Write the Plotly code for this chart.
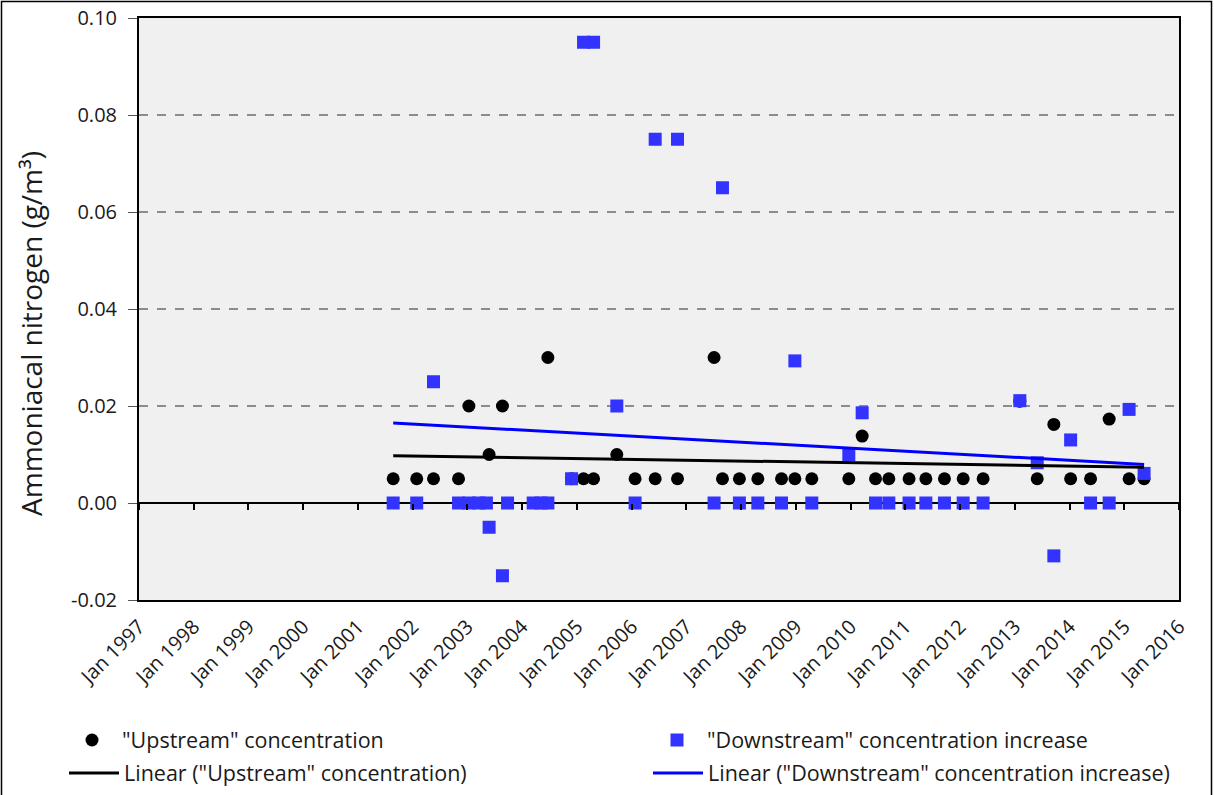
import numpy as np
import pandas as pd
import plotly.graph_objects as go

# Sampling dates and values (g/m3)
up_dates = [
    "2001-08-24", "2002-01-28", "2002-05-20", "2002-11-03", "2003-01-11",
    "2003-05-26", "2003-08-23", "2004-06-21", "2004-11-26", "2005-02-14",
    "2005-04-22", "2005-09-24", "2006-01-24", "2006-06-07", "2006-11-03",
    "2007-07-05", "2007-08-30", "2007-12-21", "2008-04-22", "2008-09-27",
    "2008-12-25", "2009-04-17", "2009-12-20", "2010-03-19", "2010-06-16",
    "2010-09-13", "2011-01-26", "2011-05-18", "2011-09-19", "2012-01-22",
    "2012-06-03", "2013-02-03", "2013-05-30", "2013-09-18", "2014-01-08",
    "2014-05-21", "2014-09-22", "2015-02-02", "2015-05-13",
]
up_values = [
    0.005, 0.005, 0.005, 0.005, 0.020,
    0.010, 0.020, 0.030, 0.005, 0.005,
    0.005, 0.010, 0.005, 0.005, 0.005,
    0.030, 0.005, 0.005, 0.005, 0.005,
    0.005, 0.005, 0.005, 0.0138, 0.005,
    0.005, 0.005, 0.005, 0.005, 0.005,
    0.005, 0.021, 0.005, 0.0162, 0.005,
    0.005, 0.0173, 0.005, 0.005,
]

down_dates = [
    "2001-08-24", "2002-01-28", "2002-05-20", "2002-11-03", "2003-01-11",
    "2003-03-18", "2003-05-08", "2003-05-26", "2003-08-23", "2003-09-26",
    "2004-03-15", "2004-05-06", "2004-06-21", "2004-11-26", "2005-02-14",
    "2005-04-22", "2005-09-24", "2006-01-24", "2006-06-07", "2006-11-03",
    "2007-07-05", "2007-08-30", "2007-12-21", "2008-04-22", "2008-09-27",
    "2008-12-25", "2009-04-17", "2009-12-20", "2010-03-19", "2010-06-16",
    "2010-09-13", "2011-01-26", "2011-05-18", "2011-09-19", "2012-01-22",
    "2012-06-03", "2013-02-03", "2013-05-30", "2013-09-18", "2014-01-08",
    "2014-05-21", "2014-09-22", "2015-02-02", "2015-05-13",
]
down_values = [
    0.0, 0.0, 0.025, 0.0, 0.0,
    0.0, 0.0, -0.005, -0.015, 0.0,
    0.0, 0.0, 0.0, 0.005, 0.095,
    0.095, 0.020, 0.0, 0.075, 0.075,
    0.0, 0.065, 0.0, 0.0, 0.0,
    0.0293, 0.0, 0.010, 0.0186, 0.0,
    0.0, 0.0, 0.0, 0.0, 0.0,
    0.0, 0.0211, 0.0083, -0.0109, 0.0130,
    0.0, 0.0, 0.0193, 0.0061,
]

years = list(range(1997, 2017))
x_tick_vals = [f"{y}-01-01" for y in years]
x_tick_text = [f"Jan {y}" for y in years]

y_tick_vals = [-0.02, 0.0, 0.02, 0.04, 0.06, 0.08, 0.10]
y_tick_text = ["-0.02", "0.00", "0.02", "0.04", "0.06", "0.08", "0.10"]

FONT = "Open Sans"
TEXT = "#1a1a1a"


def linear_trend(dates, values):
    """Least-squares straight line over the span of the sampled dates."""
    d = pd.to_datetime(pd.Series(dates))
    t = (d - d.min()).dt.days.to_numpy(dtype=float)
    slope, intercept = np.polyfit(t, np.asarray(values, dtype=float), 1)
    ends = [d.min(), d.max()]
    t_ends = [0.0, t.max()]
    return ends, [slope * v + intercept for v in t_ends]


up_tx, up_ty = linear_trend(up_dates, up_values)
dn_tx, dn_ty = linear_trend(down_dates, down_values)

fig = go.Figure()

fig.add_trace(go.Scatter(
    x=up_dates, y=up_values, mode="markers",
    name='"Upstream" concentration',
    marker=dict(symbol="circle", size=13, color="black"),
    legend="legend",
))
fig.add_trace(go.Scatter(
    x=down_dates, y=down_values, mode="markers",
    name='"Downstream" concentration increase',
    marker=dict(symbol="square", size=13, color="#3333ff"),
    legend="legend2",
))
fig.add_trace(go.Scatter(
    x=up_tx, y=up_ty, mode="lines", xaxis="x2",
    name='Linear ("Upstream" concentration)',
    line=dict(color="black", width=3),
    legend="legend3",
))
fig.add_trace(go.Scatter(
    x=dn_tx, y=dn_ty, mode="lines", xaxis="x2",
    name='Linear ("Downstream" concentration increase)',
    line=dict(color="#0000ff", width=3),
    legend="legend4",
))

W, H = 1214, 795
ML, MR, MT, MB = 139, 35, 18, 195
PW, PH = W - ML - MR, H - MT - MB


def px_x(p):
    return (p - ML) / PW


def px_y(p):
    return (H - MB - p) / PH


leg_font = dict(family=FONT, size=21.5, color=TEXT)
legend_common = dict(orientation="h", bgcolor="rgba(0,0,0,0)", font=leg_font,
                     xanchor="left", yanchor="middle", itemwidth=50)

fig.update_layout(
    width=W, height=H,
    margin=dict(l=ML, r=MR, t=MT, b=MB, autoexpand=False),
    paper_bgcolor="white",
    plot_bgcolor="#f0f0f0",
    font=dict(family=FONT, size=18, color=TEXT),
    showlegend=True,
    xaxis=dict(
        type="date", range=["1997-01-01", "2016-01-01"],
        tickvals=x_tick_vals, ticktext=x_tick_text, tickangle=-45,
        ticks="", showgrid=False, zeroline=False, automargin=False,
        showline=True, linecolor="black", linewidth=2, mirror=True,
        ticklabelstandoff=5,
        tickfont=dict(family=FONT, size=20, color=TEXT),
    ),
    xaxis2=dict(
        type="date", range=["1997-01-01", "2016-01-01"],
        overlaying="x", anchor="free", position=1 / 6,
        tickvals=x_tick_vals, ticks="outside", ticklen=6, tickwidth=2,
        tickcolor="black", showticklabels=False, showgrid=False,
        showline=False, zeroline=False,
    ),
    yaxis=dict(
        range=[-0.02, 0.10], tickvals=y_tick_vals, ticktext=y_tick_text,
        showgrid=True, gridcolor="#8c8c8c", griddash="dash", gridwidth=1.5,
        zeroline=True, zerolinecolor="black", zerolinewidth=2,
        showline=True, linecolor="black", linewidth=2, mirror=True,
        ticks="outside", ticklen=9, tickcolor="#555555", automargin=False,
        ticklabelstandoff=7,
        tickfont=dict(family=FONT, size=20, color=TEXT),
    ),
    legend=dict(x=px_x(62), y=px_y(740), **legend_common),
    legend2=dict(x=px_x(647), y=px_y(740), **legend_common),
    legend3=dict(x=px_x(64), y=px_y(773), **legend_common),
    legend4=dict(x=px_x(648), y=px_y(773), **legend_common),
    annotations=[dict(
        text="Ammoniacal nitrogen (g/m³)", textangle=-90,
        xref="paper", yref="paper", x=px_x(31), y=px_y(334),
        xanchor="center", yanchor="middle", showarrow=False,
        font=dict(family=FONT, size=28, color=TEXT),
    )],
    shapes=[dict(
        type="rect", xref="paper", yref="paper", layer="below",
        x0=px_x(1.5), x1=px_x(1211.5), y0=px_y(800), y1=px_y(1.5),
        line=dict(color="black", width=1.5), fillcolor="rgba(0,0,0,0)",
    )],
)

fig.write_html("out.html")
